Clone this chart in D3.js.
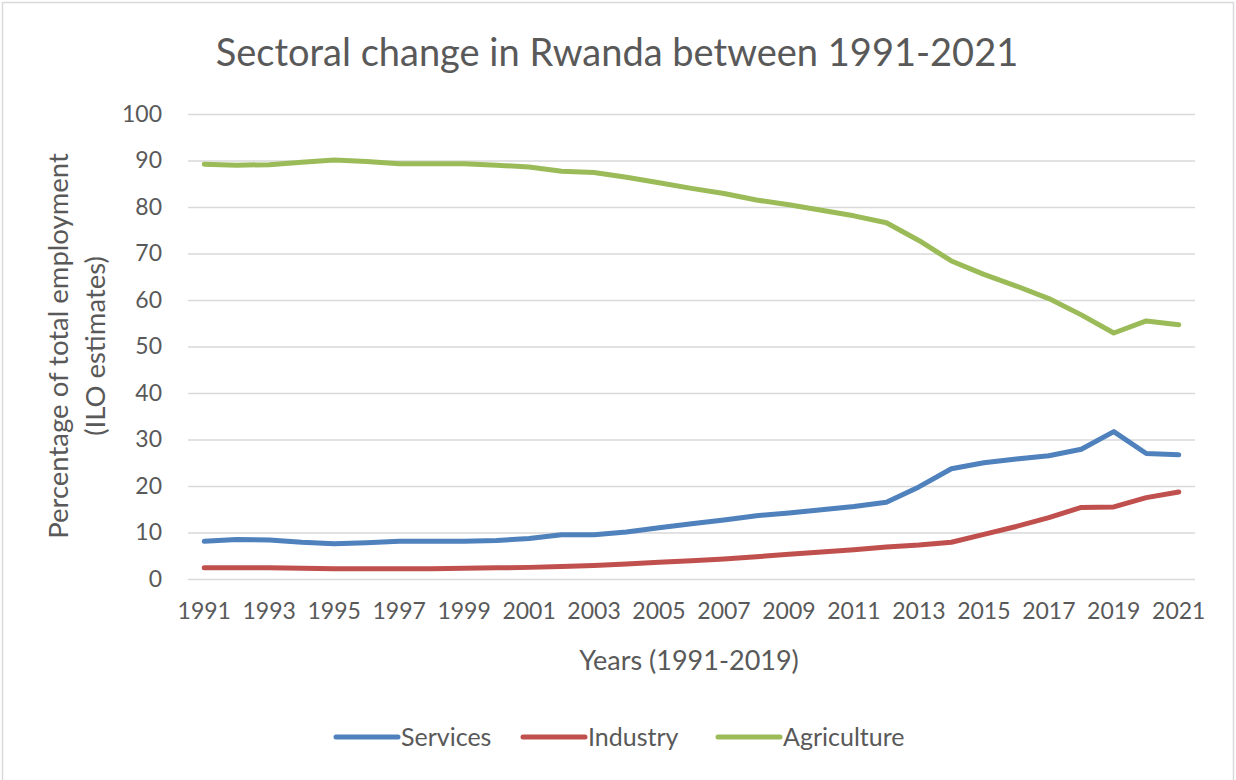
<!DOCTYPE html>
<html>
<head>
<meta charset="utf-8">
<script src="https://cdn.jsdelivr.net/npm/d3@7"></script>
<style>
  html, body { margin: 0; padding: 0; background: #fff; }
  svg { display: block; }
  text { font-family: Lato, "Open Sans", sans-serif; fill: #595959; }
</style>
</head>
<body>
<svg id="chart" width="1236" height="780"></svg>
<script>
// Employment share by sector in Rwanda, % of total employment (ILO estimates)
const years = d3.range(1991, 2022);
const services = [8.1, 8.5, 8.4, 7.9, 7.6, 7.8, 8.1, 8.1, 8.1, 8.3, 8.7, 9.5, 9.5, 10.1, 11.0, 11.9, 12.7, 13.6, 14.2, 14.9, 15.6, 16.5, 19.8, 23.7, 25.0, 25.8, 26.5, 27.9, 31.7, 27.0, 26.7];
const industry = [2.4, 2.4, 2.4, 2.3, 2.2, 2.2, 2.2, 2.2, 2.3, 2.4, 2.5, 2.7, 2.9, 3.2, 3.6, 3.9, 4.3, 4.8, 5.3, 5.8, 6.3, 6.9, 7.3, 7.9, 9.6, 11.3, 13.2, 15.4, 15.5, 17.5, 18.7];
const agriculture = [89.2, 89.0, 89.1, 89.6, 90.1, 89.8, 89.3, 89.3, 89.3, 89.0, 88.6, 87.7, 87.4, 86.4, 85.2, 84.0, 82.9, 81.5, 80.5, 79.3, 78.1, 76.6, 72.8, 68.4, 65.5, 63.0, 60.3, 56.8, 52.9, 55.5, 54.7];
const yTicks = [0, 10, 20, 30, 40, 50, 60, 70, 80, 90, 100];
const xTickLabels = years.filter((y, i) => i % 2 === 0);

const seriesNames = ["Services", "Industry", "Agriculture"];
const seriesColors = ["#4F81BD", "#C0504D", "#9BBB59"];
const seriesValues = [services, industry, agriculture];

const svg = d3.select("#chart");

// chart frame
svg.append("rect")
  .attr("x", 2.5).attr("y", 2.5)
  .attr("width", 1231).attr("height", 790)
  .attr("fill", "#fff").attr("stroke", "#d9d9d9").attr("stroke-width", 1.5);

const plot = { left: 188, right: 1195, top: 114, bottom: 579 };

const x = d3.scaleBand().domain(years).range([plot.left, plot.right]);
const y = d3.scaleLinear().domain([0, 100]).range([plot.bottom, plot.top]);

// horizontal gridlines
svg.append("g")
  .selectAll("line")
  .data(yTicks)
  .join("line")
  .attr("x1", plot.left).attr("x2", plot.right)
  .attr("y1", d => y(d) + 0.5).attr("y2", d => y(d) + 0.5)
  .attr("stroke", "#d9d9d9").attr("stroke-width", 1.5);

// y axis labels
const yAxis = svg.append("g")
  .attr("transform", `translate(${plot.left - 26},0)`)
  .call(d3.axisLeft(y).tickValues(yTicks).tickSize(0).tickPadding(0));
yAxis.select(".domain").remove();
yAxis.selectAll("text")
  .attr("font-size", 23)
  .attr("fill", "#595959")
  .style("font-family", "Lato, 'Open Sans', sans-serif");

// x axis labels
const xAxis = svg.append("g")
  .attr("transform", `translate(0,${plot.bottom + 24})`)
  .call(d3.axisBottom(x).tickValues(xTickLabels).tickSize(0).tickPadding(0));
xAxis.select(".domain").remove();
xAxis.selectAll("text")
  .attr("font-size", 23)
  .attr("fill", "#595959")
  .style("font-family", "Lato, 'Open Sans', sans-serif");

// series lines
const line = d3.line()
  .x((d, i) => x(years[i]) + x.bandwidth() / 2)
  .y(d => y(d));

svg.append("g")
  .selectAll("path")
  .data(seriesValues)
  .join("path")
  .attr("d", d => line(d))
  .attr("fill", "none")
  .attr("stroke", (d, i) => seriesColors[i])
  .attr("stroke-width", 5)
  .attr("stroke-linejoin", "round")
  .attr("stroke-linecap", "round");

// title
svg.append("text")
  .attr("x", 617).attr("y", 66)
  .attr("text-anchor", "middle")
  .attr("font-size", 38)
  .text("Sectoral change in Rwanda between 1991-2021");

// axis titles
svg.append("text")
  .attr("x", 689).attr("y", 670)
  .attr("text-anchor", "middle")
  .attr("font-size", 27)
  .text("Years (1991-2019)");

const yTitle = svg.append("text")
  .attr("transform", "translate(68,346) rotate(-90)")
  .attr("text-anchor", "middle")
  .attr("font-size", 27.5);
yTitle.append("tspan").attr("x", 0).attr("dy", 0).text("Percentage of total employment");
yTitle.append("tspan").attr("x", 0).attr("dy", 37).text("(ILO estimates)");

// legend
const legendX = [336, 523, 718];
const legend = svg.append("g")
  .selectAll("g")
  .data(seriesNames)
  .join("g")
  .attr("transform", (d, i) => `translate(${legendX[i]},737)`);
legend.append("line")
  .attr("x1", 0).attr("x2", 62)
  .attr("stroke", (d, i) => seriesColors[i])
  .attr("stroke-width", 5)
  .attr("stroke-linecap", "round");
legend.append("text")
  .attr("x", 65).attr("y", 9)
  .attr("font-size", 25)
  .text(d => d);
</script>
</body>
</html>
